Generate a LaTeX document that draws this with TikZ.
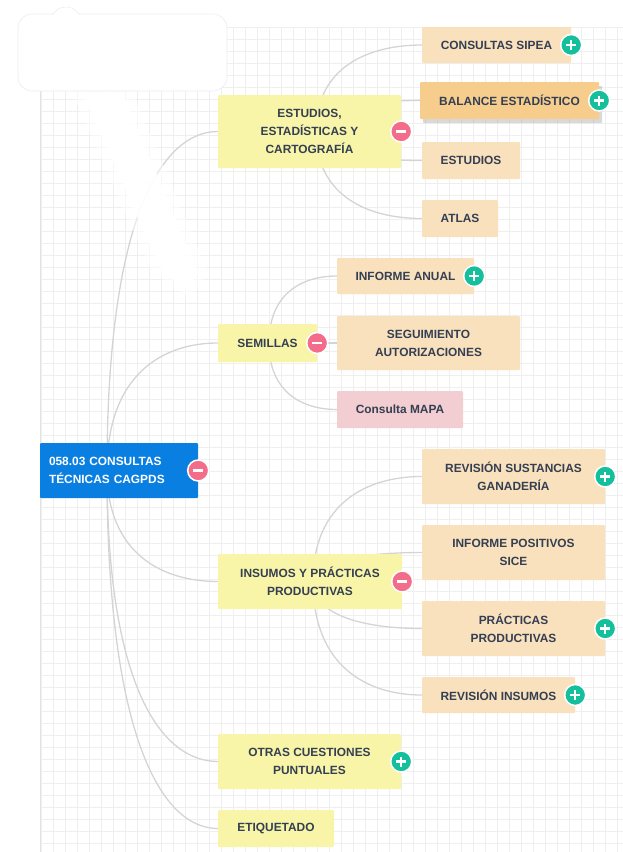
\documentclass[tikz,border=0pt]{standalone}
\usepackage{fontspec}
\setmainfont{Liberation Sans}
\usetikzlibrary{calc, shadows}
\pgfdeclarelayer{bg}
\pgfsetlayers{bg,main}

\definecolor{rootblue}{HTML}{0A7FE2}
\definecolor{topicyellow}{HTML}{F8F5A8}
\definecolor{subpeach}{HTML}{FAE1BD}
\definecolor{suborange}{HTML}{F7CD8E}
\definecolor{subpink}{HTML}{F2CDD1}
\definecolor{inkslate}{HTML}{343F52}
\definecolor{linkgray}{HTML}{D4D4D4}
\definecolor{gridgray}{HTML}{EFEFEF}
\definecolor{minusred}{HTML}{F36D8A}
\definecolor{plusteal}{HTML}{14BF9B}

\tikzset{
  gridline/.style={draw=gridgray, line width=0.8pt},
  linkline/.style={draw=linkgray, line width=1.3pt,
    to path={.. controls ($(\tikztostart)!0.75!(\tikztostart |- \tikztotarget)$)
      and ($(\tikztostart |- \tikztotarget)!0.5!(\tikztotarget)$) .. (\tikztotarget)}},
  mapbox/.style={rectangle, rounded corners=1pt, inner sep=0pt, align=center,
    text=inkslate, font=\bfseries\fontsize{11.9}{18}\selectfont},
  rootbox/.style={mapbox, fill=rootblue, text=white, align=left,
    text width=140pt, inner sep=9pt, minimum height=55pt},
  topicbox/.style={mapbox, fill=topicyellow},
  subbox/.style={mapbox, fill=subpeach},
  togglebtn/.style={circle, draw=white, line width=1.5pt, minimum size=21pt, inner sep=0pt},
  minusbtn/.style={togglebtn, fill=minusred, path picture={
    \draw[white, line width=2.2pt] ([xshift=-5pt]path picture bounding box.center)
      -- ([xshift=5pt]path picture bounding box.center);}},
  plusbtn/.style={togglebtn, fill=plusteal, path picture={
    \draw[white, line width=2.2pt] ([xshift=-5pt]path picture bounding box.center)
      -- ([xshift=5pt]path picture bounding box.center);
    \draw[white, line width=2.2pt] ([yshift=-5pt]path picture bounding box.center)
      -- ([yshift=5pt]path picture bounding box.center);}},
  smudge/.style={fill=white, draw=gray!15, line width=0.6pt}
}

\begin{document}
\begin{tikzpicture}[x=1pt, y=-1pt]
  \useasboundingbox (0,0) rectangle (623,852);
  % canvas grid
  \begin{pgfonlayer}{bg}
    \foreach \gx in {41,53,...,623}
      \draw[gridline] (\gx,27) -- (\gx,852);
    \foreach \gy in {27,39,...,852}
      \draw[gridline] (40,\gy) -- (623,\gy);
    \draw[gridline, draw=gray!22] (40,27) -- (40,852);
  \end{pgfonlayer}

  % central topic
  \node[rootbox] (root) at (119,470.5) {058.03 CONSULTAS\\TÉCNICAS CAGPDS};

  % main topics
  \node[topicbox, minimum width=183pt, minimum height=73pt] (est) at (309.5,131.5) {ESTUDIOS,\\ESTADÍSTICAS Y\\CARTOGRAFÍA};
  \node[topicbox, minimum width=99pt, minimum height=38pt] (sem) at (267.5,343) {SEMILLAS};
  \node[topicbox, minimum width=184pt, minimum height=55pt] (ins) at (310,581.5) {INSUMOS Y PRÁCTICAS\\PRODUCTIVAS};
  \node[topicbox, minimum width=183pt, minimum height=55pt] (otr) at (309.5,761.5) {OTRAS CUESTIONES\\PUNTUALES};
  \node[topicbox, minimum width=116pt, minimum height=37pt] (eti) at (276,828.5) {ETIQUETADO};

  % subtopics
  \node[subbox, minimum width=149pt, minimum height=36pt] (sipea) at (496.5,45) {CONSULTAS SIPEA};
  \node[subbox, fill=suborange, minimum width=179pt, minimum height=37pt,
    drop shadow={shadow xshift=3pt, shadow yshift=-4pt, opacity=0.3}] (bal) at (509.5,100.5) {BALANCE ESTADÍSTICO};
  \node[subbox, minimum width=98pt, minimum height=37pt] (estu) at (471,160.5) {ESTUDIOS};
  \node[subbox, minimum width=76pt, minimum height=37pt] (atlas) at (460,218.5) {ATLAS};
  \node[subbox, minimum width=137pt, minimum height=36pt] (anual) at (405.5,276) {INFORME ANUAL};
  \node[subbox, minimum width=183pt, minimum height=54pt] (segui) at (428.5,343) {SEGUIMIENTO\\AUTORIZACIONES};
  \node[subbox, fill=subpink, minimum width=126pt, minimum height=37pt] (mapa) at (400,409.5) {Consulta MAPA};
  \node[subbox, minimum width=183pt, minimum height=55pt] (sust) at (513.5,476.5) {REVISIÓN SUSTANCIAS\\GANADERÍA};
  \node[subbox, minimum width=183pt, minimum height=55pt] (posit) at (513.5,552.5) {INFORME POSITIVOS\\SICE};
  \node[subbox, minimum width=183pt, minimum height=55pt] (pract) at (513.5,628.5) {PRÁCTICAS\\PRODUCTIVAS};
  \node[subbox, minimum width=153pt, minimum height=36pt] (revins) at (498.5,695) {REVISIÓN INSUMOS};

  % collapse / expand buttons
  \foreach \nd in {root,est,sem,ins}
    \node[minusbtn] (\nd Btn) at (\nd.east) {};
  \foreach \nd in {sipea,bal,anual,sust,pract,revins,otr}
    \node[plusbtn] (\nd Btn) at (\nd.east) {};

  % hubs the branches grow from
  \coordinate (rootHub) at ([xshift=-12pt]root.center);
  \coordinate (estHub) at ([xshift=6.5pt]est.center);
  \coordinate (semHub) at ([xshift=1.5pt]sem.center);
  \coordinate (insHub) at ([xshift=3pt]ins.center);

  \begin{pgfonlayer}{bg}
    \foreach \kid in {est,sem,ins,otr,eti}
      \draw[linkline] (rootHub) to (\kid.west);
    \foreach \kid in {sipea,bal,estu,atlas}
      \draw[linkline] (estHub) to (\kid.west);
    \foreach \kid in {anual,segui,mapa}
      \draw[linkline] (semHub) to (\kid.west);
    \foreach \kid in {sust,posit,pract,revins}
      \draw[linkline] (insHub) to (\kid.west);
  \end{pgfonlayer}

  % white smudges over the canvas
  \draw[smudge] (66,22) circle (15pt);
  \draw[smudge, rounded corners=14pt] (18,14) rectangle (227,91);
  \fill[white] (66,22) circle (14.4pt);
  \fill[white, opacity=0.5] (72,92) -- (132,92) -- (208,272) -- (190,298) -- (152,272) -- cycle;
  \fill[white, opacity=0.9] (82,92) -- (122,92) -- (198,272) -- (188,290) -- (162,272) -- cycle;
\end{tikzpicture}
\end{document}
